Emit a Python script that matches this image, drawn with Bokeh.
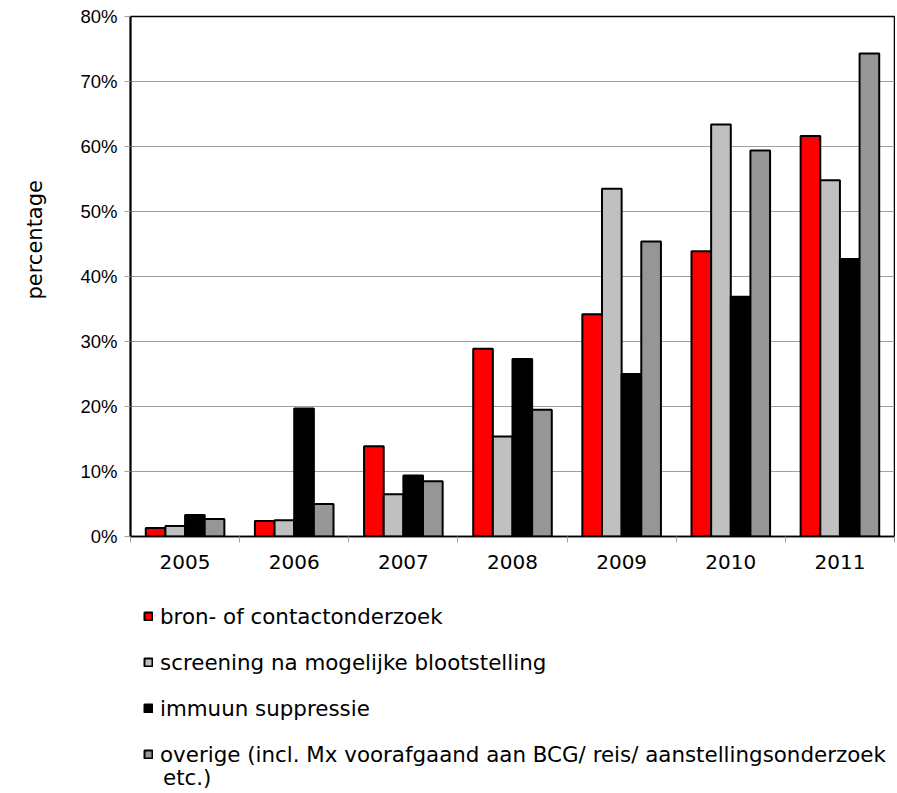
from bokeh.plotting import figure
from bokeh.layouts import column
from bokeh.models import (ColumnDataSource, FixedTicker, NumeralTickFormatter,
                          Legend, LegendItem, Range1d)
from bokeh.transform import dodge
from bokeh.embed import file_html
from bokeh.resources import INLINE

years = ["2005", "2006", "2007", "2008", "2009", "2010", "2011"]
bron = [1.3, 2.4, 13.9, 28.9, 34.2, 43.9, 61.6]
screening = [1.6, 2.5, 6.5, 15.4, 53.5, 63.4, 54.8]
immuun = [3.3, 19.7, 9.4, 27.3, 25.0, 36.9, 42.7]
overige = [2.7, 5.0, 8.5, 19.5, 45.4, 59.4, 74.3]
y_ticks = [0, 10, 20, 30, 40, 50, 60, 70, 80]

series_labels = ["bron- of contactonderzoek",
                 "screening na mogelijke blootstelling",
                 "immuun suppressie",
                 "overige (incl. Mx voorafgaand aan BCG/ reis/ aanstellingsonderzoek"]
label_continuation = "etc.)"
series_values = [bron, screening, immuun, overige]
series_colors = ["#ff0000", "#c0c0c0", "#000000", "#969696"]
offsets = [-0.27, -0.09, 0.09, 0.27]

centers = [i + 0.5 for i in range(len(years))]
data = dict(x=centers)
for k, vals in enumerate(series_values):
    data["s%d" % k] = [v / 100 for v in vals]
src = ColumnDataSource(data)

p = figure(width=895, height=580, output_backend="svg", toolbar_location=None,
           x_range=Range1d(0, len(years)), y_range=Range1d(0, 0.8),
           min_border_left=130, min_border_right=1, min_border_top=16,
           min_border_bottom=44)

for k in range(4):
    p.vbar(x=dodge("x", offsets[k], range=p.x_range), top="s%d" % k, width=0.18,
           source=src, fill_color=series_colors[k], line_color="black", line_width=2)

p.outline_line_color = "black"
p.outline_line_width = 1.5
p.xgrid.grid_line_color = None
p.ygrid.grid_line_color = "#a0a0a0"
p.ygrid.grid_line_width = 1

# y axis
p.yaxis.ticker = FixedTicker(ticks=[t / 100 for t in y_ticks])
p.yaxis.formatter = NumeralTickFormatter(format="0%")
p.yaxis.axis_line_color = "black"
p.yaxis.axis_line_width = 2
p.yaxis.major_tick_line_color = "#a0a0a0"
p.yaxis.major_tick_out = 6
p.yaxis.major_tick_in = 0
p.yaxis.minor_tick_line_color = None
p.yaxis.major_label_text_font = "Liberation Sans"
p.yaxis.major_label_text_font_size = "18.5px"
p.yaxis.major_label_text_color = "black"
p.yaxis.major_label_standoff = 7
p.yaxis.axis_label = "\u00a0" * 11 + "percentage"
p.yaxis.axis_label_text_font = "DejaVu Sans"
p.yaxis.axis_label_text_font_size = "21px"
p.yaxis.axis_label_text_font_style = "normal"
p.yaxis.axis_label_text_color = "black"
p.yaxis.axis_label_standoff = 30

# x axis
p.xaxis.ticker = FixedTicker(ticks=centers, minor_ticks=list(range(len(years) + 1)))
p.xaxis.major_label_overrides = {c: y for c, y in zip(centers, years)}
p.xaxis.axis_line_color = "black"
p.xaxis.axis_line_width = 1.5
p.xaxis.major_tick_line_color = None
p.xaxis.minor_tick_line_color = "#a0a0a0"
p.xaxis.minor_tick_out = 6
p.xaxis.minor_tick_in = 0
p.xaxis.major_label_text_font = "DejaVu Sans"
p.xaxis.major_label_text_font_size = "20px"
p.xaxis.major_label_text_color = "black"
p.xaxis.major_label_standoff = 12

# legend panel (separate figure below the chart)
p2 = figure(width=895, height=212, output_backend="svg", toolbar_location=None,
            x_range=Range1d(0, 1), y_range=Range1d(0, 1),
            min_border_left=120, min_border_right=0, min_border_top=10,
            min_border_bottom=0)
p2.axis.visible = False
p2.grid.grid_line_color = None
p2.outline_line_color = None
nan = float("nan")
placeholder = ColumnDataSource(dict(x=[nan], top=[nan]))
legend_renderers = [p2.vbar(x="x", top="top", width=0.1, source=placeholder,
                            fill_color=series_colors[k], line_color="black", line_width=2)
                    for k in range(4)]
blank = p2.vbar(x="x", top="top", width=0.1, source=placeholder,
                fill_alpha=0, line_alpha=0)

legend_style = dict(border_line_color=None, background_fill_alpha=0,
                    label_text_font="DejaVu Sans", label_text_font_size="21.4px",
                    label_text_color="black", glyph_width=10, glyph_height=10,
                    label_standoff=7, label_height=26)

items = [LegendItem(label=series_labels[k], renderers=[legend_renderers[k]]) for k in range(4)]
legend = Legend(items=items, location="top_left", orientation="vertical",
                spacing=20, padding=10, margin=13, **legend_style)
p2.add_layout(legend, "center")

legend2 = Legend(items=[LegendItem(label=label_continuation, renderers=[blank])],
                 location=(16, 2), orientation="vertical",
                 spacing=0, padding=0, margin=0, **legend_style)
p2.add_layout(legend2, "center")

layout = column(p, p2, spacing=0)
open("out.html", "w").write(file_html(layout, INLINE))
